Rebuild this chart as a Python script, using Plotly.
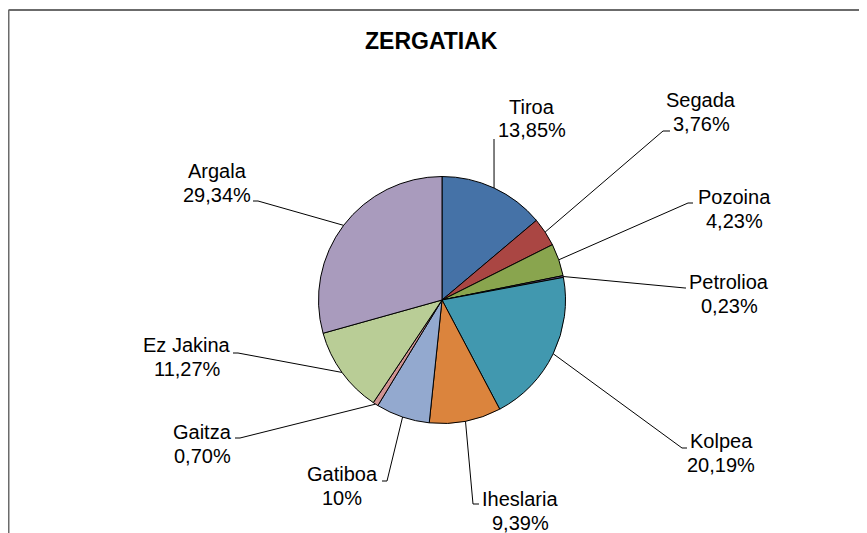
import math
import plotly.graph_objects as go

# ---- data ----
categories = ["Tiroa", "Segada", "Pozoina", "Petrolioa", "Kolpea",
              "Iheslaria", "Gatiboa", "Gaitza", "Ez Jakina", "Argala"]
values = [13.85, 3.76, 4.23, 0.23, 20.19, 9.39, 7.04, 0.70, 11.27, 29.34]
pct_labels = ["13,85%", "3,76%", "4,23%", "0,23%", "20,19%",
              "9,39%", "10%", "0,70%", "11,27%", "29,34%"]
colors = ["#4572A7", "#AA4643", "#89A54E", "#71588F", "#4198AF",
          "#DB843D", "#93A9CF", "#D19392", "#B9CD96", "#A99BBD"]

# ---- layout (screen pixels) ----
W, H = 867, 533
OFF = 8  # page body margin in front of the figure
CX, CY, R = 442, 300, 123.5
label_pos = [(532, 107), (701, 100), (734, 197), (729, 282), (721, 441),
             (520, 499), (342, 474), (202, 432), (187, 345), (217, 171)]
elbows = [((494, 139), (494, 139)), ((663, 131), (670, 131)),
          ((688, 203), (693, 203)), ((685, 288), (686, 288)),
          ((682, 448), (687, 448)), ((473, 504), (479, 504)),
          ((387, 481), (382, 481)), ((240, 438), (235, 438)),
          ((238, 353), (233, 353)), ((258, 201), (253, 201))]
LINE_GAP = 23.5


def px(x):
    return (x - OFF) / W


def py(y):
    return 1 - (y - OFF) / H


fig = go.Figure()
fig.add_trace(go.Pie(
    labels=categories, values=values, sort=False, direction="clockwise",
    rotation=0, textinfo="none", showlegend=False,
    marker=dict(colors=colors, line=dict(color="#000000", width=1)),
    domain=dict(x=[px(CX - R), px(CX + R)], y=[py(CY + R), py(CY - R)]),
    hoverinfo="label+percent",
))

shapes = []
annotations = []
total = sum(values)
cum = 0.0
for i, v in enumerate(values):
    mid = (cum + v / 2) / total * 2 * math.pi
    cum += v
    sx = CX + R * math.sin(mid)
    sy = CY - R * math.cos(mid)
    (ex, ey), (tx, ty) = elbows[i]
    shapes.append(dict(type="line", xref="paper", yref="paper",
                       x0=px(sx), y0=py(sy), x1=px(ex), y1=py(ey),
                       line=dict(color="#000000", width=1)))
    shapes.append(dict(type="line", xref="paper", yref="paper",
                       x0=px(ex), y0=py(ey), x1=px(tx), y1=py(ty),
                       line=dict(color="#000000", width=1)))
    lx, ly = label_pos[i]
    for j, t in enumerate([categories[i], pct_labels[i]]):
        annotations.append(dict(
            text=t, x=px(lx), y=py(ly + j * LINE_GAP), xref="paper", yref="paper",
            xanchor="center", yanchor="middle", showarrow=False,
            font=dict(family="Liberation Sans, Arial, sans-serif", size=20, color="#000000")))

# title
annotations.append(dict(
    text="<b>ZERGATIAK</b>", x=px(431), y=py(41), xref="paper", yref="paper",
    xanchor="center", yanchor="middle", showarrow=False,
    font=dict(family="Liberation Sans, Arial, sans-serif", size=23, color="#000000")))

# chart frame (top and left edges visible)
shapes.append(dict(type="line", xref="paper", yref="paper",
                   x0=px(8.5), y0=py(10), x1=px(W + OFF + 2), y1=py(10),
                   line=dict(color="#6b6b6b", width=2)))
shapes.append(dict(type="line", xref="paper", yref="paper",
                   x0=px(8.5), y0=py(10), x1=px(8.5), y1=py(H + OFF + 2),
                   line=dict(color="#6b6b6b", width=2)))

fig.update_layout(
    width=W, height=H, margin=dict(l=0, r=0, t=0, b=0),
    paper_bgcolor="#ffffff", plot_bgcolor="#ffffff",
    shapes=shapes, annotations=annotations,
)
fig.write_html("out.html")
